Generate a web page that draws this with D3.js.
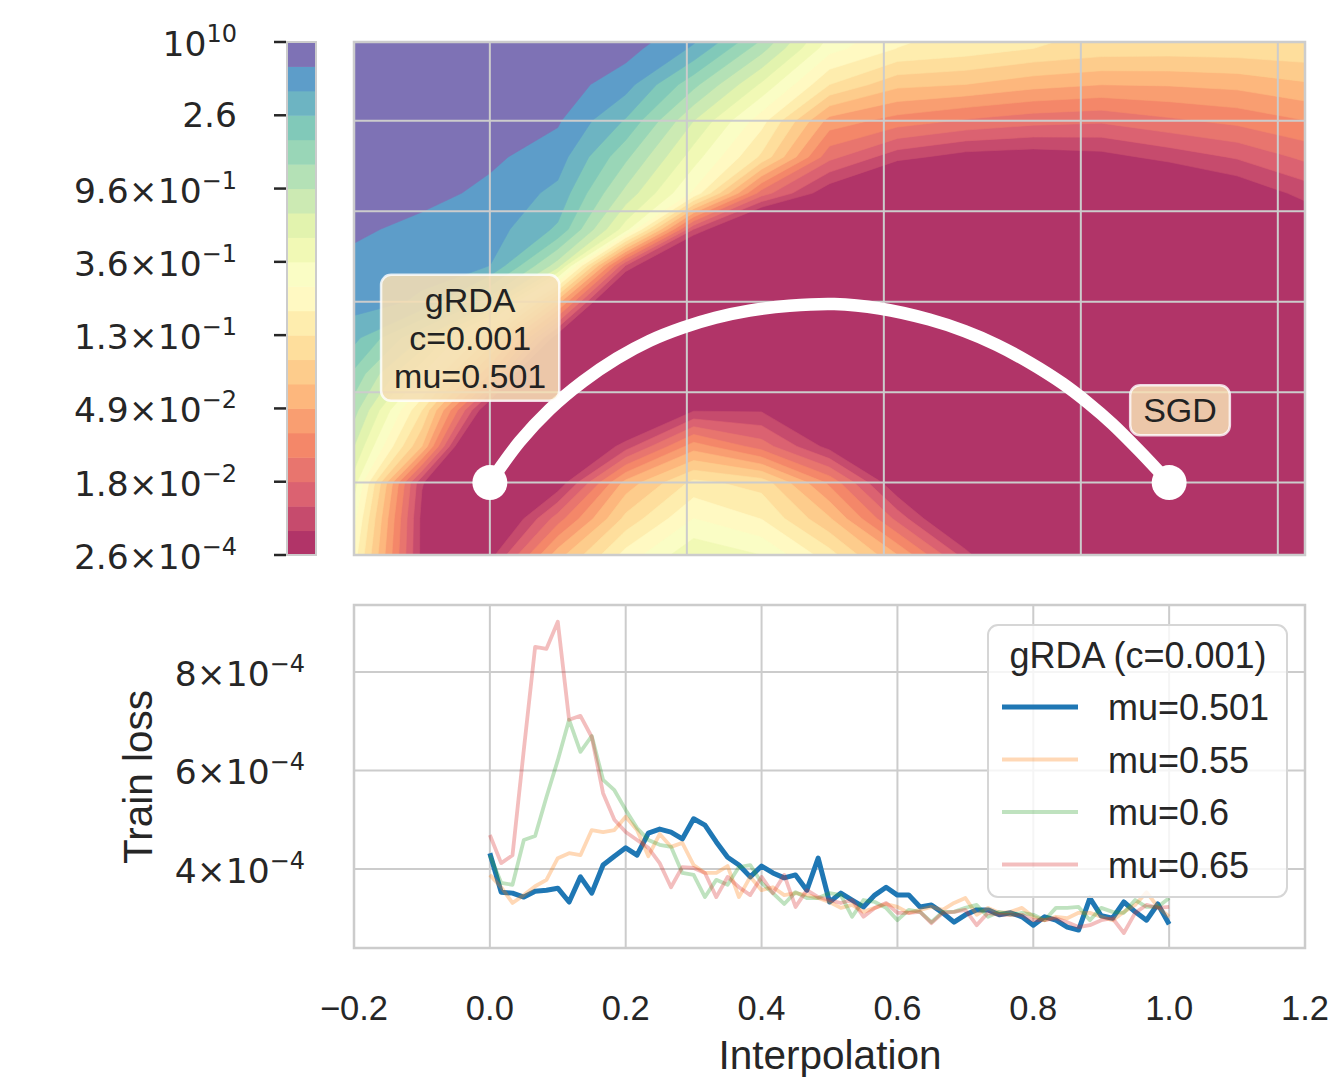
<!DOCTYPE html>
<html>
<head>
<meta charset="utf-8">
<title>gRDA loss landscape</title>
<style>
  body { margin: 0; background: white; }
  svg { font-family: "Liberation Sans", Arial, sans-serif; }
  .math { font-family: "DejaVu Sans", sans-serif; }
</style>
</head>
<body>
<div id="chart"></div>
<script src="https://cdnjs.cloudflare.com/ajax/libs/d3/7.8.5/d3.min.js"></script>
<script>
// interpolation coefficient of the 1-d slices (61 samples, 0 .. 1)
var interpolation = d3.range(0, 61).map(function (i) { return i / 60; });

// train loss along the slice, in units of 1e-4
var lossMu0501 = [4.32, 3.53, 3.51, 3.43, 3.55, 3.57, 3.61, 3.33, 3.84, 3.51,
    4.08, 4.26, 4.43, 4.28, 4.73, 4.81, 4.75, 4.61, 5.02, 4.89,
    4.55, 4.24, 4.08, 3.84, 4.06, 3.92, 3.82, 3.88, 3.57, 4.22,
    3.33, 3.51, 3.37, 3.23, 3.47, 3.63, 3.47, 3.47, 3.23, 3.27,
    3.11, 2.92, 3.07, 3.17, 3.17, 3.07, 3.11, 3.03, 2.86, 3.03,
    2.96, 2.82, 2.76, 3.41, 3.05, 3.00, 3.33, 3.13, 2.96, 3.29, 2.88];
var lossMu055 = [3.88, 3.63, 3.31, 3.47, 3.65, 3.78, 4.22, 4.32, 4.28, 4.79,
    4.75, 4.79, 5.06, 4.79, 4.26, 4.71, 4.45, 4.53, 4.08, 3.92,
    3.92, 4.06, 3.43, 3.84, 3.57, 3.63, 3.47, 3.51, 3.47, 3.41,
    3.33, 3.21, 3.27, 3.13, 3.21, 3.29, 3.23, 3.11, 3.17, 3.23,
    3.17, 3.31, 3.41, 3.07, 3.21, 3.11, 3.13, 3.21, 3.03, 2.96,
    3.03, 3.00, 3.11, 3.11, 3.03, 2.96, 3.13, 3.27, 3.53, 3.23, 3.03];
var lossMu06 = [4.28, 3.72, 3.68, 4.59, 4.67, 5.46, 6.21, 7.03, 6.38, 6.70,
    5.81, 5.60, 5.20, 4.83, 4.59, 4.49, 4.45, 3.92, 3.88, 3.43,
    3.78, 3.68, 4.04, 4.08, 3.72, 3.51, 3.29, 3.53, 3.41, 3.41,
    3.51, 3.47, 3.03, 3.37, 3.33, 3.21, 2.96, 3.17, 3.13, 2.92,
    3.13, 3.13, 3.21, 3.27, 3.03, 3.13, 3.07, 3.11, 3.07, 2.96,
    3.21, 3.21, 3.23, 2.96, 3.21, 3.13, 3.11, 3.37, 3.23, 3.23, 3.41];
var lossMu065 = [4.69, 4.12, 4.28, 6.42, 8.51, 8.47, 9.02, 7.03, 7.11, 6.68,
    5.54, 5.00, 4.75, 4.59, 4.43, 4.12, 3.63, 4.04, 4.02, 3.92,
    3.43, 3.84, 3.63, 3.47, 3.84, 3.51, 3.88, 3.23, 3.57, 3.43,
    3.37, 3.31, 3.37, 3.03, 3.21, 3.31, 3.11, 3.11, 3.13, 2.90,
    3.11, 3.13, 3.17, 2.86, 3.11, 3.07, 3.07, 3.07, 2.96, 2.96,
    3.00, 2.92, 2.82, 2.86, 2.96, 3.00, 2.70, 3.11, 3.27, 3.21, 3.23];

var seriesNames = ["mu=0.501", "mu=0.55", "mu=0.6", "mu=0.65"];
var seriesColors = ["#1f77b4", "#ff7f0e", "#2ca02c", "#d62728"];

var xTicks = [-0.2, 0.0, 0.2, 0.4, 0.6, 0.8, 1.0, 1.2];
var lossTicks = [4, 6, 8];
var lossTickLabels = [["4", "\u22124"], ["6", "\u22124"], ["8", "\u22124"]];

// loss surface on the plane through gRDA and SGD: log10(train loss) on a grid
var gridX = [-0.2, -0.1, 0.0, 0.1, 0.2, 0.3, 0.4, 0.5, 0.6, 0.7, 0.8, 0.9, 1.0, 1.1, 1.2];
var gridY = [5.2, 4.8, 4.4, 4.0, 3.6, 3.2, 2.8, 2.4, 2.0, 1.6, 1.2, 0.8, 0.4, 0.0, -0.4, -0.8];
var logLossGrid = [
    [1.16, 1.14, 0.99, 0.90, 0.85, 0.70, 0.40, -0.30, -0.59, -0.71, -0.78, -0.84, -0.85, -0.84, -0.82],
    [1.09, 1.06, 0.92, 0.83, 0.76, 0.54, 0.04, -0.54, -0.74, -0.80, -0.88, -0.94, -0.95, -0.94, -0.92],
    [1.02, 0.99, 0.88, 0.78, 0.62, 0.17, -0.33, -0.88, -1.13, -1.17, -1.26, -1.31, -1.30, -1.27, -1.19],
    [0.95, 0.92, 0.79, 0.72, 0.40, -0.16, -0.68, -1.37, -1.52, -1.62, -1.69, -1.72, -1.63, -1.56, -1.46],
    [0.88, 0.83, 0.73, 0.63, 0.16, -0.38, -0.91, -1.70, -1.98, -2.10, -2.13, -2.09, -1.98, -1.87, -1.71],
    [0.80, 0.75, 0.67, 0.52, -0.06, -0.62, -1.67, -2.15, -2.49, -2.54, -2.54, -2.54, -2.35, -2.18, -1.98],
    [0.73, 0.66, 0.63, 0.39, -0.38, -1.89, -2.60, -2.61, -2.75, -2.83, -2.83, -2.83, -2.75, -2.61, -2.22],
    [0.66, 0.60, 0.56, -0.09, -1.89, -2.78, -2.90, -2.90, -2.97, -2.97, -2.97, -2.97, -2.90, -2.83, -2.68],
    [0.62, 0.54, 0.05, -1.24, -2.75, -2.97, -3.04, -3.04, -3.04, -3.04, -3.04, -3.04, -3.04, -2.97, -2.90],
    [0.46, -0.02, -0.88, -2.15, -2.90, -2.75, -2.75, -2.83, -2.90, -2.97, -3.04, -3.11, -3.11, -3.11, -3.11],
    [0.24, -0.45, -1.46, -3.03, -2.75, -2.47, -2.47, -2.68, -2.83, -2.97, -3.04, -3.11, -3.19, -3.19, -3.19],
    [0.04, -0.88, -2.25, -2.61, -2.47, -2.05, -2.05, -2.39, -2.61, -2.83, -2.97, -3.04, -3.11, -3.11, -3.11],
    [-0.16, -1.17, -2.95, -2.45, -1.96, -1.38, -1.67, -2.09, -2.47, -2.68, -2.90, -2.97, -3.04, -3.04, -3.04],
    [-0.38, -2.02, -2.47, -2.15, -1.26, -0.84, -0.94, -1.49, -2.19, -2.54, -2.83, -2.90, -2.97, -2.97, -2.97],
    [-0.55, -2.08, -2.39, -1.67, -0.98, -0.59, -0.74, -1.15, -1.79, -2.41, -2.75, -2.83, -2.90, -2.90, -2.90],
    [-0.67, -2.08, -2.10, -1.23, -0.68, -0.33, -0.45, -0.82, -1.31, -1.96, -2.67, -2.75, -2.83, -2.83, -2.83]
];

// contour levels (train loss) and the colour bar labels
var levels = [2.6e-4, 0.00928, 0.01293, 0.0180, 0.02508, 0.03495, 0.04867, 0.06781, 0.09447,
    0.1316, 0.1833, 0.2554, 0.3557, 0.4956, 0.6904, 0.9618, 1.340, 1.866, 2.600, 3.622, 5.046, 1e10];
var cbarTickIndex = [0, 3, 6, 9, 12, 15, 18, 21];
var cbarTickLabels = [["2.6", "\u22124"], ["1.8", "\u22122"], ["4.9", "\u22122"], ["1.3", "\u22121"],
    ["3.6", "\u22121"], ["9.6", "\u22121"], ["2.6", null], [null, "10"]];

// path between the two solutions on the plane
var pathPoints = [[0, 0], [0.044, 0.454], [0.088, 0.809], [0.137, 1.118], [0.187, 1.373],
    [0.235, 1.567], [0.284, 1.713], [0.332, 1.822], [0.382, 1.901], [0.441, 1.954],
    [0.507, 1.973], [0.574, 1.924], [0.647, 1.802], [0.699, 1.674], [0.746, 1.523],
    [0.794, 1.329], [0.843, 1.096], [0.882, 0.872], [0.916, 0.651], [0.956, 0.352], [1.0, 0]];
var topXTicks = [0, 0.29, 0.58, 0.87, 1.16];
var topYTicks = [0, 1, 2, 3, 4];
var notes = [
    {lines: ["gRDA", "c=0.001", "mu=0.501"], x: -0.029, y: 1.6},
    {lines: ["SGD"], x: 1.016, y: 0.8}
];

var textColor = "#262626",
    gridColor = "#cccccc";

var svg = d3.select("#chart").append("svg")
    .attr("width", 1333)
    .attr("height", 1077);

var x = d3.scaleLinear().domain([-0.2, 1.2]).range([354, 1305]);
var yTop = d3.scaleLinear().domain([-0.8, 4.87]).range([555, 42]);
var yBot = d3.scaleLinear().domain([2.396, 9.36]).range([948, 605]);
var yBar = d3.scaleLinear().domain([0, 21]).range([555, 42]);

var spectral = d3.scaleLinear()
    .domain(d3.range(11).map(function (i) { return i / 10; }))
    .range(d3.schemeSpectral[11])
    .interpolate(d3.interpolateRgb);

function bandColor(k) {
    var t = k < 20 ? k / 21 : 1;
    return d3.interpolateRgb("#ffffff", spectral(t))(0.8);
}

function mathText(sel, mant, expo) {
    sel.append("tspan").text(mant === null ? "10" : (expo === null ? mant : mant + "\u00d710"));
    if (expo !== null) {
        sel.append("tspan").attr("dy", -14).attr("font-size", 24).text(expo);
    }
}

var defs = svg.append("defs");
defs.append("clipPath").attr("id", "clipTop").append("rect")
    .attr("x", 354).attr("y", 42).attr("width", 951).attr("height", 513);
defs.append("clipPath").attr("id", "clipBot").append("rect")
    .attr("x", 354).attr("y", 605).attr("width", 951).attr("height", 343);

// ---------- top: contour plane ----------
var nx = gridX.length, ny = gridY.length;
var flat = [].concat.apply([], logLossGrid);
var thresholds = levels.slice(0, 21).map(function (v) { return Math.log10(v); });
var contours = d3.contours().size([nx, ny]).thresholds(thresholds)(flat);

var dxg = gridX[1] - gridX[0], dyg = gridY[1] - gridY[0];
var gridProj = d3.geoTransform({
    point: function (gx, gy) {
        this.stream.point(x(gridX[0] + (gx - 0.5) * dxg), yTop(gridY[0] + (gy - 0.5) * dyg));
    }
});

var topG = svg.append("g").attr("clip-path", "url(#clipTop)");
topG.selectAll("path.band")
    .data(contours)
    .enter()
    .append("path")
    .attr("class", "band")
    .attr("d", d3.geoPath(gridProj))
    .attr("fill", function (d, i) { return bandColor(i); })
    .attr("stroke", function (d, i) { return bandColor(i); })
    .attr("stroke-width", 0.6);

topG.selectAll("line.gx").data(topXTicks).enter().append("line")
    .attr("x1", function (d) { return x(d); }).attr("x2", function (d) { return x(d); })
    .attr("y1", 42).attr("y2", 555)
    .attr("stroke", gridColor).attr("stroke-width", 2);
topG.selectAll("line.gy").data(topYTicks).enter().append("line")
    .attr("y1", function (d) { return yTop(d); }).attr("y2", function (d) { return yTop(d); })
    .attr("x1", 354).attr("x2", 1305)
    .attr("stroke", gridColor).attr("stroke-width", 2);

svg.append("rect")
    .attr("x", 354).attr("y", 42).attr("width", 951).attr("height", 513)
    .attr("fill", "none").attr("stroke", gridColor).attr("stroke-width", 2.5);

var pathLine = d3.line()
    .x(function (d) { return x(d[0]); })
    .y(function (d) { return yTop(d[1]); })
    .curve(d3.curveCatmullRom.alpha(0.5));

topG.append("path")
    .datum(pathPoints)
    .attr("d", pathLine)
    .attr("fill", "none")
    .attr("stroke", "white")
    .attr("stroke-width", 12.5)
    .attr("stroke-linecap", "round");

topG.selectAll("circle.end")
    .data([pathPoints[0], pathPoints[pathPoints.length - 1]])
    .enter()
    .append("circle")
    .attr("cx", function (d) { return x(d[0]); })
    .attr("cy", function (d) { return yTop(d[1]); })
    .attr("r", 17.5)
    .attr("fill", "white");

notes.forEach(function (n) {
    var g = svg.append("g");
    var lineH = 38;
    var cy = yTop(n.y), cx = x(n.x);
    var t = g.append("text")
        .attr("text-anchor", "middle")
        .attr("font-size", 34)
        .attr("fill", "#222222");
    n.lines.forEach(function (s, i) {
        t.append("tspan")
            .attr("x", cx)
            .attr("y", cy - (n.lines.length - 1) * lineH / 2 + i * lineH + 12)
            .text(s);
    });
    var bb = t.node().getBBox();
    g.insert("rect", "text")
        .attr("x", bb.x - 13).attr("y", bb.y - 6)
        .attr("width", bb.width + 26).attr("height", bb.height + 12)
        .attr("rx", 10)
        .attr("fill", "#f5deb3").attr("fill-opacity", 0.87)
        .attr("stroke", "white").attr("stroke-opacity", 0.8).attr("stroke-width", 2.5);
});

// ---------- colour bar ----------
svg.selectAll("rect.cb")
    .data(d3.range(21))
    .enter()
    .append("rect")
    .attr("class", "cb")
    .attr("x", 287).attr("width", 29)
    .attr("y", function (k) { return yBar(k + 1); })
    .attr("height", function (k) { return yBar(k) - yBar(k + 1) + 0.5; })
    .attr("fill", function (k) { return bandColor(k); });

svg.append("rect")
    .attr("x", 287).attr("y", 42).attr("width", 29).attr("height", 513)
    .attr("fill", "none").attr("stroke", gridColor).attr("stroke-width", 2);

svg.selectAll("line.cbt")
    .data(cbarTickIndex)
    .enter()
    .append("line")
    .attr("x1", 274).attr("x2", 286)
    .attr("y1", function (d) { return yBar(d); })
    .attr("y2", function (d) { return yBar(d); })
    .attr("stroke", textColor).attr("stroke-width", 2.5);

cbarTickIndex.forEach(function (k, i) {
    var lab = cbarTickLabels[i];
    var t = svg.append("text")
        .attr("class", "math")
        .attr("x", 237)
        .attr("y", yBar(k) + (lab[1] === null ? 12 : 14))
        .attr("text-anchor", "end")
        .attr("font-size", 34.5)
        .attr("fill", textColor);
    mathText(t, lab[0], lab[1]);
});

// ---------- bottom: train loss along the slice ----------
var botG = svg.append("g");
botG.selectAll("line.bx").data(xTicks).enter().append("line")
    .attr("x1", function (d) { return x(d); }).attr("x2", function (d) { return x(d); })
    .attr("y1", 605).attr("y2", 948)
    .attr("stroke", gridColor).attr("stroke-width", 2);
botG.selectAll("line.by").data(lossTicks).enter().append("line")
    .attr("y1", function (d) { return yBot(d); }).attr("y2", function (d) { return yBot(d); })
    .attr("x1", 354).attr("x2", 1305)
    .attr("stroke", gridColor).attr("stroke-width", 2);
svg.append("rect")
    .attr("x", 354).attr("y", 605).attr("width", 951).attr("height", 343)
    .attr("fill", "none").attr("stroke", gridColor).attr("stroke-width", 2.5);

var series = [lossMu0501, lossMu055, lossMu06, lossMu065];
var lossLine = d3.line()
    .x(function (d, i) { return x(interpolation[i]); })
    .y(function (d) { return yBot(d); });

svg.append("g").attr("clip-path", "url(#clipBot)")
    .selectAll("path.loss")
    .data(series)
    .enter()
    .append("path")
    .attr("d", lossLine)
    .attr("fill", "none")
    .attr("stroke", function (d, i) { return seriesColors[i]; })
    .attr("stroke-opacity", function (d, i) { return i === 0 ? 1 : 0.3; })
    .attr("stroke-width", function (d, i) { return i === 0 ? 5 : 3.8; })
    .attr("stroke-linejoin", "round");

svg.selectAll("text.xt")
    .data(xTicks)
    .enter()
    .append("text")
    .attr("x", function (d) { return x(d); })
    .attr("y", 1020)
    .attr("text-anchor", "middle")
    .attr("font-size", 34.5)
    .attr("fill", textColor)
    .text(function (d) { return d3.format(".1f")(d).replace("-", "\u2212"); });

lossTicks.forEach(function (v, i) {
    var t = svg.append("text")
        .attr("class", "math")
        .attr("x", 305)
        .attr("y", yBot(v) + 14)
        .attr("text-anchor", "end")
        .attr("font-size", 34.5)
        .attr("fill", textColor);
    mathText(t, lossTickLabels[i][0], lossTickLabels[i][1]);
});

svg.append("text")
    .attr("x", 830).attr("y", 1069)
    .attr("text-anchor", "middle")
    .attr("font-size", 40.5)
    .attr("fill", textColor)
    .text("Interpolation");

svg.append("text")
    .attr("transform", "translate(152,777) rotate(-90)")
    .attr("text-anchor", "middle")
    .attr("font-size", 40.5)
    .attr("fill", textColor)
    .text("Train loss");

// legend
var leg = svg.append("g");
leg.append("rect")
    .attr("x", 988).attr("y", 625).attr("width", 299).attr("height", 272)
    .attr("rx", 10)
    .attr("fill", "white").attr("fill-opacity", 0.8)
    .attr("stroke", "#d6d6d6").attr("stroke-width", 2);
leg.append("text")
    .attr("x", 1138).attr("y", 668)
    .attr("text-anchor", "middle")
    .attr("font-size", 36)
    .attr("fill", textColor)
    .text("gRDA (c=0.001)");
seriesNames.forEach(function (name, i) {
    var yy = 707 + i * 52.5;
    leg.append("line")
        .attr("x1", 1002).attr("x2", 1078)
        .attr("y1", yy).attr("y2", yy)
        .attr("stroke", seriesColors[i])
        .attr("stroke-opacity", i === 0 ? 1 : 0.3)
        .attr("stroke-width", i === 0 ? 5 : 3.8);
    leg.append("text")
        .attr("x", 1108).attr("y", yy + 13)
        .attr("font-size", 36)
        .attr("fill", textColor)
        .text(name);
});
</script>
</body>
</html>
